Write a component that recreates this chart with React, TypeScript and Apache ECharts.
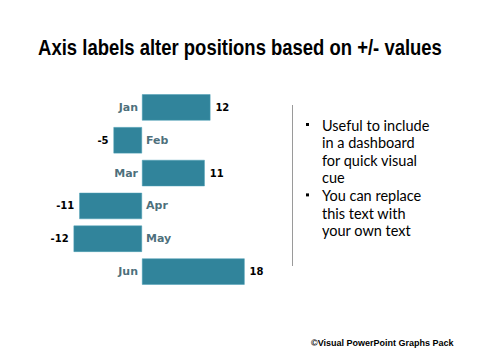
import React, { useEffect, useRef } from "react";
import * as echarts from "echarts";

const categories = ["Jan", "Feb", "Mar", "Apr", "May", "Jun"];
const values = [12, -5, 11, -11, -12, 18];
const bullets = [
  ["Useful to include", "in a dashboard", "for quick visual", "cue"],
  ["You can replace", "this text with", "your own text"],
];
const titleText = "Axis labels alter positions based on +/- values";
const footerText = "\u00A9Visual PowerPoint Graphs Pack";

export default function App() {
  const ref = useRef<HTMLDivElement>(null);
  useEffect(() => {
    if (!ref.current) return;
    const chart = echarts.init(ref.current, null, { renderer: "svg" });

    const bulletGraphics: any[] = [];
    let y = 125;
    bullets.forEach((group) => {
      group.forEach((line, i) => {
        if (i === 0) {
          bulletGraphics.push({
            type: "rect",
            shape: { x: 306, y: y - 2, width: 3, height: 3 },
            style: { fill: "#000" },
          });
        }
        bulletGraphics.push({
          type: "text",
          x: 322,
          y,
          style: {
            text: line,
            font: "14.5px Lato",
            fill: "#000",
            verticalAlign: "middle",
          },
        });
        y += 17.6;
      });
    });

    chart.setOption({
      animation: false,
      backgroundColor: "#fff",
      grid: { left: 56.5, width: 199.5, top: 91, height: 197, containLabel: false },
      xAxis: {
        type: "value",
        min: -15,
        max: 20,
        show: false,
      },
      yAxis: {
        type: "category",
        data: categories,
        inverse: true,
        show: false,
      },
      series: [
        {
          type: "bar",
          barWidth: "80%",
          data: values.map((v) => ({
            value: v,
            label: {
              show: true,
              position: v >= 0 ? "right" : "left",
              distance: 5,
              formatter: "{c}",
              color: "#000",
              fontFamily: "DejaVu Sans",
              fontWeight: "bold",
              fontSize: 10,
            },
          })),
          itemStyle: { color: "#31849B", borderColor: "#4a9fb5", borderWidth: 0.5 },
        },
        {
          type: "scatter",
          symbolSize: 0,
          data: values.map((v, i) => ({
            value: [0, categories[i]],
            label: {
              show: true,
              position: v >= 0 ? "left" : "right",
              distance: 4,
              formatter: categories[i],
              color: "#1B4958",
              fontFamily: "DejaVu Sans",
              fontWeight: "bold",
              fontSize: 11,
            },
          })),
          silent: true,
        },
      ],
      graphic: [
        {
          type: "text",
          x: 240,
          y: 47,
          scaleX: 0.84,
          originX: 0,
          style: {
            text: titleText,
            font: "bold 22px 'Liberation Sans'",
            fill: "#000",
            align: "center",
            verticalAlign: "middle",
          },
        },
        {
          type: "line",
          shape: { x1: 292.5, y1: 105, x2: 292.5, y2: 266 },
          style: { stroke: "#9a9a9a", lineWidth: 1 },
        },
        ...bulletGraphics,
        {
          type: "text",
          x: 311,
          y: 343,
          style: {
            text: footerText,
            font: "bold 9px 'Liberation Sans'",
            fill: "#000",
            verticalAlign: "middle",
          },
        },
      ],
    });
    return () => chart.dispose();
  }, []);
  return (
    <div
      ref={ref}
      style={{ position: "absolute", left: 0, top: 0, width: 480, height: 360 }}
    />
  );
}
